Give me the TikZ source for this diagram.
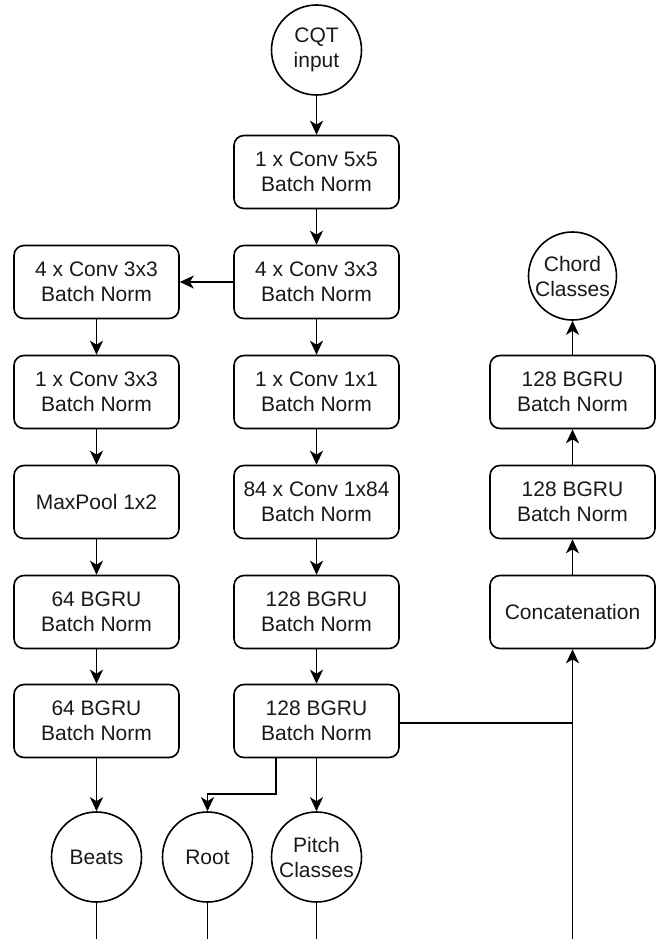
\documentclass[tikz,border=0pt]{standalone}
\usepackage{fontspec}
\setmainfont{Liberation Sans}
\usetikzlibrary{arrows.meta}
\begin{document}
\begin{tikzpicture}[x=1pt,y=-1pt,
  every node/.style={font=\fontsize{21}{25}\selectfont, text=black!90, align=center},
  blk/.style={draw, line width=1.6pt, rounded corners=10pt, minimum width=165pt, minimum height=73pt, inner sep=0pt},
  rnd/.style={draw, line width=1.6pt, circle, minimum size=90pt, inner sep=0pt},
  ln/.style={line width=1.6pt},
  arr/.style={line width=1.6pt, -{Stealth[length=14pt,width=13pt,inset=4pt]}}]
\useasboundingbox (0,0) rectangle (657,939);
% nodes
\node[rnd] (cqt) at (316.5,50) {CQT\\input};
\node[blk] (c5) at (316.5,172) {1 x Conv 5x5\\Batch Norm};
\node[blk] (m2) at (316.5,282) {4 x Conv 3x3\\Batch Norm};
\node[blk] (m3) at (316.5,392) {1 x Conv 1x1\\Batch Norm};
\node[blk] (m4) at (316.5,502) {84 x Conv 1x84\\Batch Norm};
\node[blk] (m5) at (316.5,612) {128 BGRU\\Batch Norm};
\node[blk] (m6) at (316.5,721) {128 BGRU\\Batch Norm};
\node[blk] (l2) at (96.5,282) {4 x Conv 3x3\\Batch Norm};
\node[blk] (l3) at (96.5,392) {1 x Conv 3x3\\Batch Norm};
\node[blk] (l4) at (96.5,502) {MaxPool 1x2};
\node[blk] (l5) at (96.5,612) {64 BGRU\\Batch Norm};
\node[blk] (l6) at (96.5,721) {64 BGRU\\Batch Norm};
\node[blk] (r5) at (572.5,612) {Concatenation};
\node[blk] (r4) at (572.5,502) {128 BGRU\\Batch Norm};
\node[blk] (r3) at (572.5,392) {128 BGRU\\Batch Norm};
\node[rnd, minimum size=88pt] (chord) at (572.5,276) {Chord\\Classes};
\node[rnd] (beats) at (96.5,857) {Beats};
\node[rnd] (root) at (207.5,857) {Root};
\node[rnd] (pitch) at (316.5,857) {Pitch\\Classes};
% free ends
\coordinate (bb) at (96.5,939);
\coordinate (rb) at (207.5,939);
\coordinate (pb) at (316.5,939);
\coordinate (cb) at (572.5,939);
\coordinate (rk) at (276,794);
% connectors
\draw[arr] (cqt) -- (c5);
\draw[arr] (c5) -- (m2);
\draw[arr] (m2) -- (l2);
\draw[arr] (m2) -- (m3);
\draw[arr] (m3) -- (m4);
\draw[arr] (m4) -- (m5);
\draw[arr] (m5) -- (m6);
\draw[arr] (l2) -- (l3);
\draw[arr] (l3) -- (l4);
\draw[arr] (l4) -- (l5);
\draw[arr] (l5) -- (l6);
\draw[arr] (l6) -- (beats);
\draw[arr] (m6) -- (pitch);
\draw[arr] (m6.south -| rk) -- (rk) -| (root.north);
\draw[ln] ([yshift=-2pt]m6.east) -- ([yshift=-2pt]m6.east -| r5);
\draw[arr] (cb) -- (r5);
\draw[arr] (r5) -- (r4);
\draw[arr] (r4) -- (r3);
\draw[arr] (r3) -- (chord);
\draw[ln] (beats) -- (bb);
\draw[ln] (root) -- (rb);
\draw[ln] (pitch) -- (pb);
\end{tikzpicture}
\end{document}
